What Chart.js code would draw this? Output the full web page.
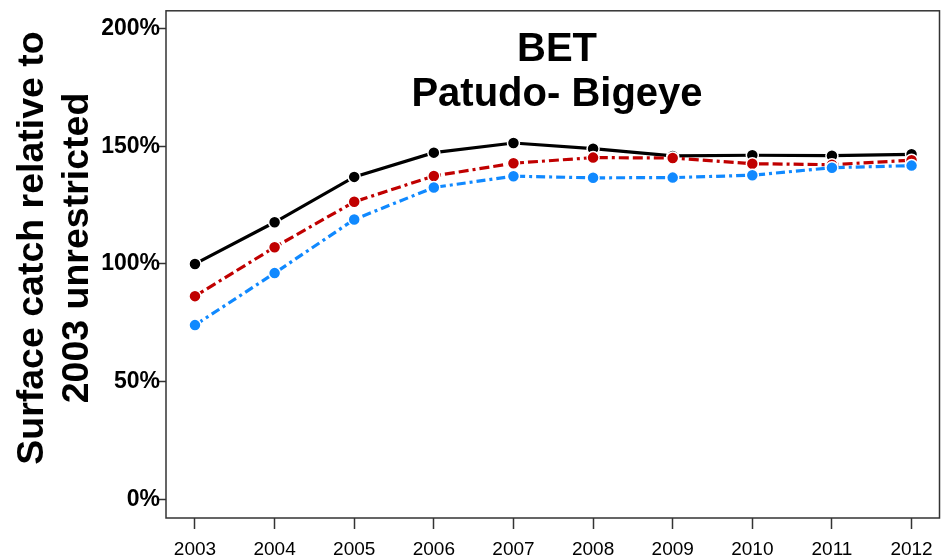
<!DOCTYPE html>
<html>
<head>
<meta charset="utf-8">
<script src="https://cdn.jsdelivr.net/npm/chart.js@4"></script>
<style>
  html, body { margin: 0; padding: 0; background: #fff; }
  #wrap { width: 947px; height: 556px; }
</style>
</head>
<body>
<div id="wrap"><canvas id="bet-chart" width="947" height="556"></canvas></div>
<script>
  const years = [2003, 2004, 2005, 2006, 2007, 2008, 2009, 2010, 2011, 2012];
  const yTickValues = [0, 50, 100, 150, 200];

  // surface catch as % of 2003 unrestricted
  const blackSeries = [100, 117.7, 137, 147.3, 151.4, 149, 145.9, 146.2, 146, 146.6];
  const redSeries = [86.3, 107.1, 126.4, 137.4, 142.8, 145.2, 145, 142.6, 142.2, 144.1];
  const blueSeries = [74, 96.1, 118.9, 132.5, 137.3, 136.6, 136.7, 137.7, 140.9, 141.8];

  const titleLines = ["BET", "Patudo- Bigeye"];
  const yTitleLines = ["Surface catch relative to", "2003 unrestricted"];

  const toPoints = (values) => values.map((v, i) => ({ x: years[i], y: v }));

  const makeDataset = (label, values, color, dash, order) => ({
    label: label,
    data: toPoints(values),
    borderColor: color,
    backgroundColor: color,
    borderWidth: 3.2,
    borderDash: dash,
    pointRadius: 6,
    pointBorderWidth: 1.5,
    pointBorderColor: "#fff",
    pointBackgroundColor: color,
    tension: 0,
    order: order,
  });

  // frame around the plot plus the big text blocks
  const decorations = {
    id: "decorations",
    afterDraw(chart) {
      const { ctx, chartArea } = chart;
      ctx.save();
      ctx.strokeStyle = "#333";
      ctx.lineWidth = 1.5;
      ctx.strokeRect(chartArea.left, chartArea.top, chartArea.right - chartArea.left, chartArea.bottom - chartArea.top);

      ctx.fillStyle = "#000";
      ctx.textAlign = "center";
      ctx.textBaseline = "alphabetic";
      ctx.font = "bold 40px 'Liberation Sans', Arial, sans-serif";
      ctx.fillText(titleLines[0], 557, 61);
      ctx.fillText(titleLines[1], 557, 106);

      ctx.font = "bold 37.5px 'Liberation Sans', Arial, sans-serif";
      [43, 88].forEach((x, i) => {
        ctx.save();
        ctx.translate(x, 248);
        ctx.rotate(-Math.PI / 2);
        ctx.fillText(yTitleLines[i], 0, 0);
        ctx.restore();
      });
      ctx.restore();
    },
  };

  const chartConfig = {
    type: "line",
    data: {
      datasets: [
        makeDataset("Unrestricted", blackSeries, "#000000", [], 2),
        makeDataset("Scenario A", redSeries, "#C00000", [10, 4, 10, 4, 3, 4], 1),
        makeDataset("Scenario B", blueSeries, "#1089FF", [9, 4, 3, 4], 0),
      ],
    },
    options: {
      responsive: false,
      animation: false,
      layout: { padding: { top: 8, right: 7, left: 0, bottom: 0 } },
      plugins: {
        legend: { display: false },
        tooltip: { enabled: false },
      },
      scales: {
        x: {
          type: "linear",
          min: 2002.636,
          max: 2012.351,
          afterBuildTicks: (scale) => {
            scale.ticks = years.map((v) => ({ value: v }));
          },
          afterFit: (scale) => {
            scale.height = 38;
          },
          border: { display: false },
          grid: { drawOnChartArea: false, drawTicks: true, tickLength: 11, tickColor: "#333", tickWidth: 1.5 },
          ticks: {
            color: "#000",
            padding: 9,
            maxRotation: 0,
            font: { family: "'Liberation Sans', Arial, sans-serif", size: 19 },
            callback: (v) => String(v),
          },
        },
        y: {
          type: "linear",
          min: -8,
          max: 207.6,
          afterBuildTicks: (scale) => {
            scale.ticks = yTickValues.map((v) => ({ value: v }));
          },
          afterFit: (scale) => {
            scale.width = 166;
          },
          border: { display: false },
          grid: { drawOnChartArea: false, drawTicks: true, tickLength: 9, tickColor: "#333", tickWidth: 1.5 },
          ticks: {
            color: "#000",
            padding: -3,
            font: { family: "'Liberation Sans', Arial, sans-serif", size: 23, weight: "bold" },
            callback: (v) => v + "%",
          },
        },
      },
    },
    plugins: [decorations],
  };

  const canvas = document.getElementById("bet-chart");
  new Chart(canvas, chartConfig);
</script>
</body>
</html>
